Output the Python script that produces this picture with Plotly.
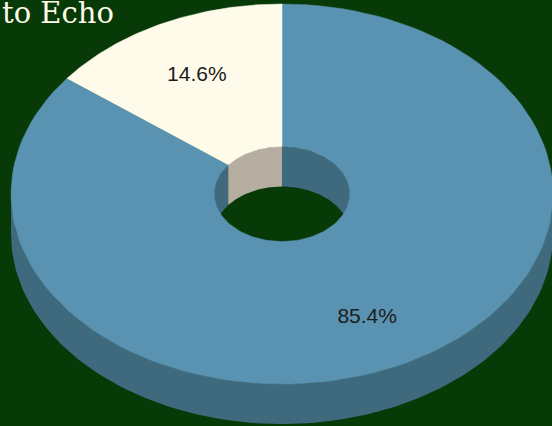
import numpy as np
import plotly.graph_objects as go

# ---- data ----
categories = ["Other", "Echo"]
values = [85.4, 14.6]
title_text = "to Echo"

# ---- styles ----
top_colors = ["#5a93b1", "#fffbea"]
inner_wall_colors = ["#3f697d", "#b5ad9f"]
outer_wall_colors = ["#3f697d", "#b5ad9f"]
bg = "#083a07"

W, H = 552, 426
cx, cy, rx, ry = 282, 194, 271, 190
hole = 0.25
depth = 40
label_frac = 0.71
label_dy = 3


def arc(a0, a1, scale, dy=0, n=120):
    t = np.radians(np.linspace(a0, a1, n))
    x = cx + scale * rx * np.sin(t)
    y = cy - scale * ry * np.cos(t) + dy
    return x, y


def intersect(a0, a1, b0, b1):
    lo, hi = max(a0, b0), min(a1, b1)
    return (lo, hi) if hi > lo else None


total = sum(values)
angles = []
acc = 0.0
for v in values:
    a0 = acc / total * 360
    acc += v
    a1 = acc / total * 360
    angles.append((a0, a1))

fig = go.Figure()

# inner back walls (visible through the hole)
for (a0, a1), col in zip(angles, inner_wall_colors):
    for b0, b1 in [(-90, 90), (270, 450)]:
        r = intersect(a0, a1, b0, b1)
        if r is None:
            continue
        x1, y1 = arc(r[0], r[1], hole)
        x2, y2 = arc(r[1], r[0], hole, depth)
        fig.add_trace(go.Scatter(x=np.concatenate([x1, x2]), y=np.concatenate([y1, y2]),
                                 fill="toself", fillcolor=col, mode="lines",
                                 line=dict(width=0, color=col), hoverinfo="skip"))

# outer front walls
for (a0, a1), col in zip(angles, outer_wall_colors):
    r = intersect(a0, a1, 90, 270)
    if r is None:
        continue
    x1, y1 = arc(r[0], r[1], 1.0)
    x2, y2 = arc(r[1], r[0], 1.0, depth)
    fig.add_trace(go.Scatter(x=np.concatenate([x1, x2]), y=np.concatenate([y1, y2]),
                             fill="toself", fillcolor=col, mode="lines",
                             line=dict(width=0, color=col), hoverinfo="skip"))

# top faces
for (a0, a1), col, name in zip(angles, top_colors, categories):
    x1, y1 = arc(a0, a1, 1.0)
    x2, y2 = arc(a1, a0, hole)
    fig.add_trace(go.Scatter(x=np.concatenate([x1, x2]), y=np.concatenate([y1, y2]),
                             fill="toself", fillcolor=col, mode="lines", name=name,
                             line=dict(width=0.5, color=col), hoverinfo="skip"))

# labels
lx, ly, lt = [], [], []
for (a0, a1), v in zip(angles, values):
    m = (a0 + a1) / 2
    x, y = arc(m, m, label_frac, dy=label_dy, n=1)
    lx.append(x[0]); ly.append(y[0]); lt.append(f"{v:.1f}%")
fig.add_trace(go.Scatter(x=lx, y=ly, text=lt, mode="text",
                         textfont=dict(size=21, color="#1c1c1c", family="Arial, Liberation Sans"),
                         hoverinfo="skip"))

fig.add_annotation(text=title_text, x=0, y=13, xref="x", yref="y", xanchor="left", yanchor="middle",
                   showarrow=False,
                   font=dict(family="DejaVu Serif", size=29, color="#fffbea"))

fig.update_layout(width=W, height=H, autosize=False, margin=dict(l=0, r=0, t=0, b=0),
                  paper_bgcolor=bg, plot_bgcolor=bg, showlegend=False, hovermode=False,
                  xaxis=dict(range=[0, W], visible=False, fixedrange=True),
                  yaxis=dict(range=[H, 0], visible=False, fixedrange=True))

fig.write_html("out.html", config={"displayModeBar": False},
               post_script="document.body.style.margin='0';document.body.style.overflow='hidden';")
